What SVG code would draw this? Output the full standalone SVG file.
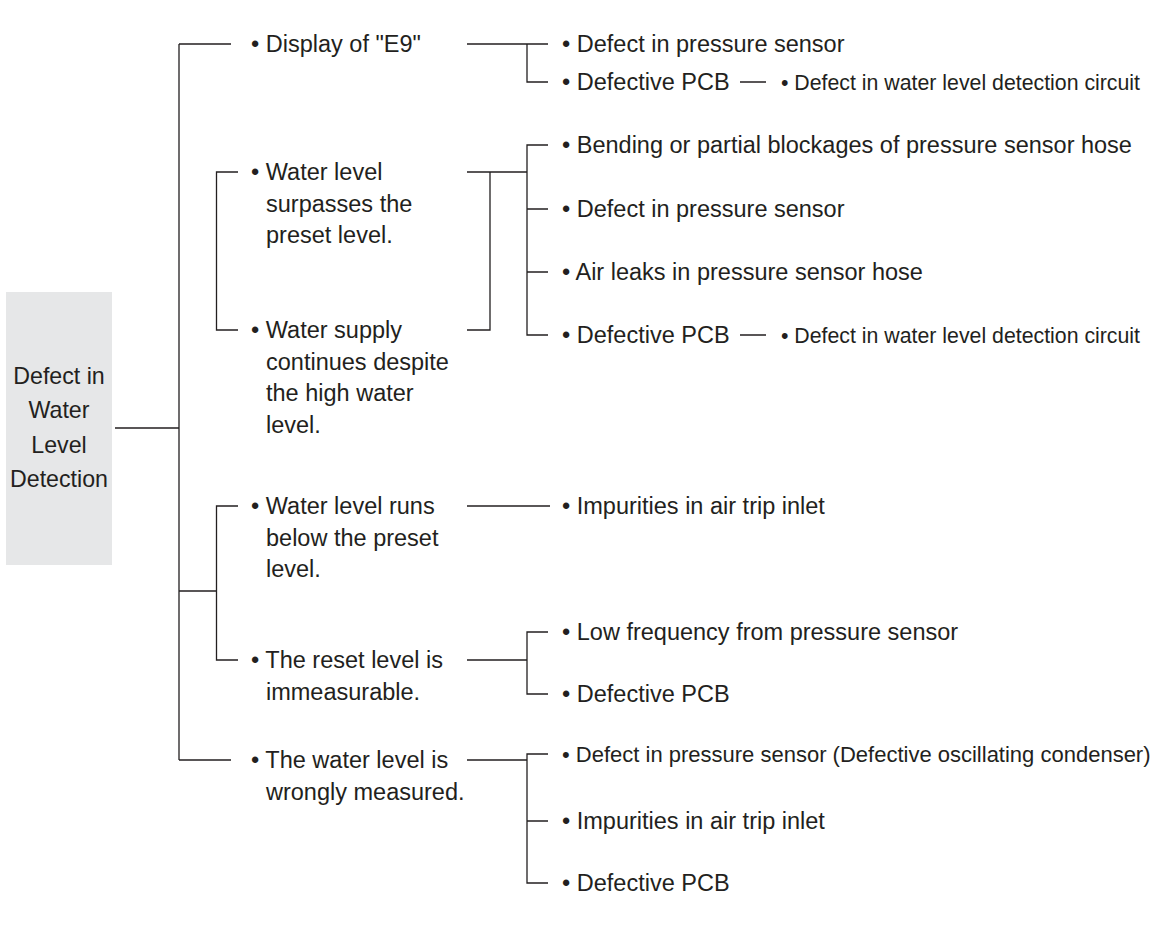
<svg xmlns="http://www.w3.org/2000/svg" width="1157" height="926" viewBox="0 0 1157 926">
<style>
text{font-family:"Liberation Sans",Arial,Helvetica,sans-serif;fill:#231f20;font-size:23.5px}
.sm{font-size:21.3px}
.md{font-size:22px}
.box{font-size:23.2px;text-anchor:middle}
.ln{stroke:#231f20;stroke-width:1.3;fill:none}
</style>
<rect width="1157" height="926" fill="#ffffff"/>
<g id="connectors" class="ln">
<path d="M115 428H179M179 44V760M179 44H231M179 760H231"/>
<path d="M179 591H216.5M238 172H216.5V330H238M238 506H216.5V660H238"/>
<path d="M467 44H527M548 44H527V82H548M740 82H766"/>
<path d="M467 172H527M467 330H490V172M548 145H527V335H548M527 209H548M527 272H548M740 335H766"/>
<path d="M467 506H550"/>
<path d="M467 660H527M548 632H527V694H548"/>
<path d="M467 760H527M548 754H527V883H548M527 821H548"/>
</g>
<g id="root">
<rect x="6" y="292" width="106" height="273" fill="#e6e7e8"/>
<text class="box" x="59" y="384">Defect in</text>
<text class="box" x="59" y="418">Water</text>
<text class="box" x="59" y="452.5">Level</text>
<text class="box" x="59" y="487">Detection</text>
</g>
<g id="n-e9"><text x="251" y="52">• Display of "E9"</text></g>
<g id="n-surpass"><text x="251" y="180">• Water level</text><text x="266" y="211.5">surpasses the</text><text x="266" y="243">preset level.</text></g>
<g id="n-supply"><text x="251" y="338">• Water supply</text><text x="266" y="369.5">continues despite</text><text x="266" y="401">the high water</text><text x="266" y="432.5">level.</text></g>
<g id="n-below"><text x="251" y="514">• Water level runs</text><text x="266" y="545.5">below the preset</text><text x="266" y="577">level.</text></g>
<g id="n-reset"><text x="251" y="668">• The reset level is</text><text x="266" y="699.5">immeasurable.</text></g>
<g id="n-wrong"><text x="251" y="768">• The water level is</text><text x="266" y="799.5">wrongly measured.</text></g>
<g id="c1"><text x="562" y="52">• Defect in pressure sensor</text></g>
<g id="c2"><text x="562" y="90">• Defective PCB</text></g>
<g id="c2a"><text class="sm" x="781" y="89.5">• Defect in water level detection circuit</text></g>
<g id="c3"><text x="562" y="153">• Bending or partial blockages of pressure sensor hose</text></g>
<g id="c4"><text x="562" y="217">• Defect in pressure sensor</text></g>
<g id="c5"><text x="562" y="280">• Air leaks in pressure sensor hose</text></g>
<g id="c6"><text x="562" y="343">• Defective PCB</text></g>
<g id="c6a"><text class="sm" x="781" y="342.5">• Defect in water level detection circuit</text></g>
<g id="c7"><text x="562" y="514">• Impurities in air trip inlet</text></g>
<g id="c8"><text x="562" y="640">• Low frequency from pressure sensor</text></g>
<g id="c9"><text x="562" y="702">• Defective PCB</text></g>
<g id="c10"><text class="md" x="562" y="762">• Defect in pressure sensor (Defective oscillating condenser)</text></g>
<g id="c11"><text x="562" y="829">• Impurities in air trip inlet</text></g>
<g id="c12"><text x="562" y="891">• Defective PCB</text></g>
</svg>
